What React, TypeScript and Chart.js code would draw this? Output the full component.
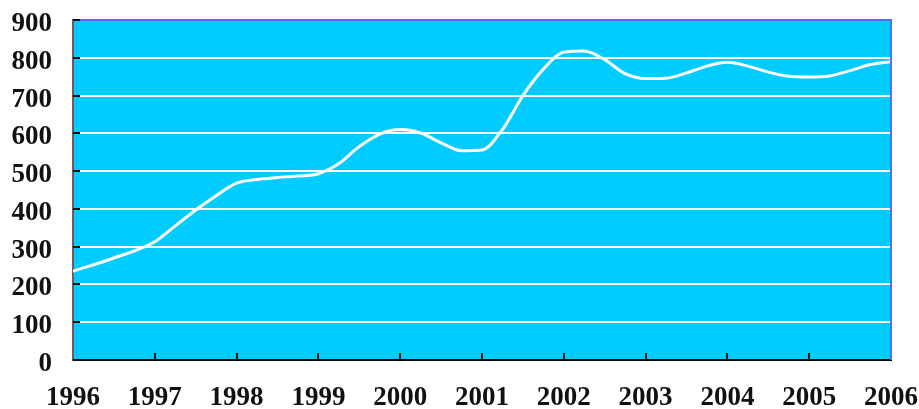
import React, { useEffect, useRef } from "react";
import { Chart, registerables } from "chart.js";

Chart.register(...registerables);

// Sample positions (fractional years) and the series value at each.
const sampleYears = [
  1996, 1996.5, 1997, 1997.25, 1997.5, 1997.75, 1998, 1998.25, 1998.5, 1998.75,
  1999, 1999.25, 1999.5, 1999.75, 2000, 2000.25, 2000.5, 2000.75, 2001, 2001.25,
  2001.5, 2001.75, 2002, 2002.25, 2002.5, 2002.75, 2003, 2003.25, 2003.5, 2003.75,
  2004, 2004.25, 2004.5, 2004.75, 2005, 2005.25, 2005.5, 2005.75, 2006,
];
const seriesValues = [
  235, 270, 313, 355, 397, 435, 468, 478, 483, 487,
  493, 520, 565, 598, 610, 601, 575, 554, 556, 610,
  700, 770, 815, 818, 795, 758, 745, 746, 760, 778,
  788, 778, 762, 751, 749, 752, 766, 782, 790,
];
const yearTicks = [1996, 1997, 1998, 1999, 2000, 2001, 2002, 2003, 2004, 2005, 2006];
const valueTicks = [0, 100, 200, 300, 400, 500, 600, 700, 800, 900];

const PLOT_BG = "#00CCFF";
const FRAME_BLUE = "#5A6CF0";
const LABEL_FONT = { family: "'Liberation Serif', 'Times New Roman', serif", size: 27, weight: "bold" as const };

const zeroScalePadding = (scale: any) => {
  scale.paddingTop = 0;
  scale.paddingBottom = 0;
  scale.paddingLeft = 0;
  scale.paddingRight = 0;
};

const plotFrame = {
  id: "plotFrame",
  beforeDraw(chart: any) {
    const { ctx, chartArea: a } = chart;
    ctx.save();
    ctx.fillStyle = PLOT_BG;
    ctx.fillRect(a.left, a.top, a.right - a.left, a.bottom - a.top);
    ctx.restore();
  },
  afterDraw(chart: any) {
    const { ctx, chartArea: a, scales } = chart;
    ctx.save();
    // top and right frame
    ctx.strokeStyle = FRAME_BLUE;
    ctx.lineWidth = 2;
    ctx.beginPath();
    ctx.moveTo(a.left, a.top);
    ctx.lineTo(a.right, a.top);
    ctx.lineTo(a.right, a.bottom);
    ctx.stroke();
    // inward tick marks
    ctx.strokeStyle = "#111";
    ctx.lineWidth = 2;
    ctx.beginPath();
    for (const v of valueTicks) {
      const y = Math.round(scales.y.getPixelForValue(v));
      ctx.moveTo(a.left, y);
      ctx.lineTo(a.left + 7, y);
    }
    for (const yr of yearTicks.slice(1, -1)) {
      const x = Math.round(scales.x.getPixelForValue(yr));
      ctx.moveTo(x, a.bottom);
      ctx.lineTo(x, a.bottom - 7);
    }
    ctx.stroke();
    ctx.restore();
  },
};

export default function App() {
  const canvasRef = useRef<HTMLCanvasElement | null>(null);

  useEffect(() => {
    document.body.style.margin = "0";
    const canvas = canvasRef.current;
    if (!canvas) return;
    const chart = new Chart(canvas, {
      type: "line",
      data: {
        datasets: [
          {
            data: sampleYears.map((x, i) => ({ x, y: seriesValues[i] })),
            borderColor: "#FFFFFF",
            borderWidth: 3,
            pointRadius: 0,
            cubicInterpolationMode: "monotone",
            fill: false,
          },
        ],
      },
      options: {
        animation: false,
        responsive: false,
        devicePixelRatio: 1,
        layout: { padding: { left: 0, top: 20, right: 28, bottom: 0 } },
        plugins: { legend: { display: false }, tooltip: { enabled: false } },
        scales: {
          x: {
            type: "linear",
            min: 1996,
            max: 2006,
            afterBuildTicks: (scale: any) => {
              scale.ticks = yearTicks.map((v) => ({ value: v }));
            },
            afterFit: (scale: any) => {
              scale.height = 49;
              zeroScalePadding(scale);
            },
            grid: { display: false, drawTicks: false },
            border: { display: true, color: "#000", width: 2 },
            ticks: {
              color: "#111",
              font: LABEL_FONT,
              padding: 22,
              maxRotation: 0,
              autoSkip: false,
              callback: (v: any) => String(v),
            },
          },
          y: {
            min: 0,
            max: 900,
            afterBuildTicks: (scale: any) => {
              scale.ticks = valueTicks.map((v) => ({ value: v }));
            },
            afterFit: (scale: any) => {
              scale.width = 73;
              zeroScalePadding(scale);
            },
            grid: {
              drawTicks: false,
              lineWidth: 2,
              color: (c: any) =>
                c.tick && (c.tick.value === 0 || c.tick.value === 900) ? "rgba(0,0,0,0)" : "#FFFFFF",
            },
            border: { display: true, color: "#6B5E5E", width: 2 },
            ticks: {
              color: "#111",
              font: LABEL_FONT,
              padding: 21,
              labelOffset: 4,
              callback: (v: any) => String(v),
            },
          },
        },
      },
      plugins: [plotFrame],
    });
    return () => chart.destroy();
  }, []);

  return (
    <div style={{ width: 919, height: 409, background: "#fff" }}>
      <canvas ref={canvasRef} width={919} height={409} />
    </div>
  );
}
